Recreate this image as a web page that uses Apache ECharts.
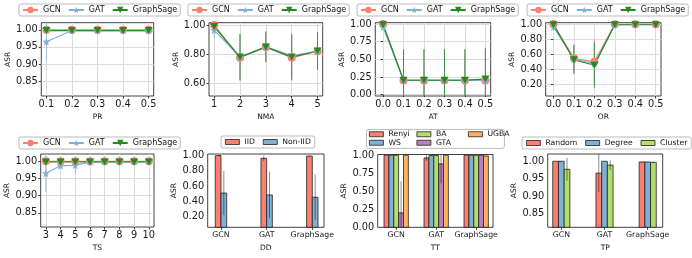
<!DOCTYPE html>
<html><head><meta charset="utf-8">
<script src="https://cdn.jsdelivr.net/npm/echarts@6/dist/echarts.min.js"></script>
<style>html,body{margin:0;padding:0;background:#fff}#c{width:692px;height:258px}</style>
</head><body><div id="c"></div>
<script>
// ---------------- DATA ----------------
const models = ['GCN', 'GAT', 'GraphSage'];

// PR
const prX = [0.1, 0.2, 0.3, 0.4, 0.5];
const prGCN = [1.0, 1.0, 1.0, 1.0, 1.0];
const prGAT = [0.965, 0.998, 0.998, 0.998, 0.998];
const prSage = [0.998, 0.998, 0.998, 0.998, 0.998];
const prGCNErr = [0, 0, 0, 0, 0];
const prGATErr = [0.055, 0.002, 0.002, 0.002, 0.002];
const prSageErr = [0.002, 0.002, 0.002, 0.002, 0.002];
const prYTicks = [0.85, 0.90, 0.95, 1.00];

// NMA
const nmaX = [1, 2, 3, 4, 5];
const nmaGCN = [1.0, 0.775, 0.85, 0.775, 0.82];
const nmaGAT = [0.965, 0.78, 0.85, 0.79, 0.82];
const nmaSage = [0.99, 0.78, 0.85, 0.78, 0.822];
const nmaGCNErr = [0.002, 0.16, 0.105, 0.16, 0.13];
const nmaGATErr = [0.055, 0.16, 0.105, 0.15, 0.13];
const nmaSageErr = [0.01, 0.158, 0.105, 0.157, 0.128];
const nmaYTicks = [0.60, 0.80, 1.00];

// AT
const atX = [0.0, 0.1, 0.2, 0.3, 0.4, 0.5];
const atGCN = [1.0, 0.2, 0.2, 0.2, 0.2, 0.2];
const atGAT = [0.96, 0.2, 0.2, 0.2, 0.2, 0.2];
const atSage = [0.99, 0.205, 0.205, 0.205, 0.205, 0.22];
const atGCNErr = [0, 0.44, 0.44, 0.44, 0.44, 0.44];
const atGATErr = [0.05, 0.44, 0.44, 0.44, 0.44, 0.44];
const atSageErr = [0.01, 0.44, 0.44, 0.44, 0.44, 0.445];
const atYTicks = [0.00, 0.25, 0.50, 0.75, 1.00];

// OR
const orX = [0.0, 0.1, 0.2, 0.3, 0.4, 0.5];
const orGCN = [1.0, 0.547, 0.50, 0.995, 0.995, 0.995];
const orGAT = [0.96, 0.535, 0.475, 0.99, 0.995, 0.995];
const orSage = [0.99, 0.528, 0.455, 0.99, 0.99, 0.99];
const orGCNErr = [0, 0.19, 0.3, 0.005, 0.003, 0.003];
const orGATErr = [0.05, 0.19, 0.3, 0.01, 0.005, 0.005];
const orSageErr = [0.01, 0.19, 0.3, 0.01, 0.005, 0.005];
const orYTicks = [0.20, 0.40, 0.60, 0.80, 1.00];

// TS
const tsX = [3, 4, 5, 6, 7, 8, 9, 10];
const tsGCN = [1.0, 1.0, 1.0, 1.0, 1.0, 1.0, 1.0, 1.0];
const tsGAT = [0.965, 0.987, 0.988, 0.998, 0.999, 0.999, 0.999, 0.999];
const tsSage = [0.998, 0.998, 0.998, 0.998, 0.998, 0.998, 0.998, 0.998];
const tsGCNErr = [0, 0, 0, 0, 0, 0, 0, 0];
const tsGATErr = [0.055, 0.01, 0.024, 0.003, 0.002, 0.002, 0.002, 0.002];
const tsSageErr = [0.002, 0.002, 0.002, 0.002, 0.002, 0.002, 0.002, 0.002];
const tsYTicks = [0.85, 0.90, 0.95, 1.00];

// DD
const ddIID = [1.0, 0.965, 0.995];
const ddIIDErr = [0.002, 0.035, 0.005];
const ddNonIID = [0.51, 0.485, 0.455];
const ddNonIIDErr = [0.29, 0.305, 0.30];
const ddYTicks = [0.20, 0.40, 0.60, 0.80, 1.00];

// TT
const ttRenyi = [1.0, 0.962, 1.0];
const ttRenyiErr = [0, 0.04, 0];
const ttWS = [1.0, 0.995, 1.0];
const ttWSErr = [0, 0.005, 0];
const ttBA = [1.0, 0.995, 1.0];
const ttBAErr = [0, 0.005, 0];
const ttGTA = [0.2, 0.88, 1.0];
const ttGTAErr = [0.44, 0.27, 0];
const ttUGBA = [1.0, 1.0, 0.99];
const ttUGBAErr = [0, 0, 0.005];
const ttYTicks = [0.00, 0.25, 0.50, 0.75, 1.00];

// TP
const tpRandom = [1.0, 0.966, 0.998];
const tpRandomErr = [0, 0.055, 0.002];
const tpDegree = [1.0, 1.0, 0.998];
const tpDegreeErr = [0, 0, 0.001];
const tpCluster = [0.977, 0.989, 0.997];
const tpClusterErr = [0.033, 0.014, 0.002];
const tpYTicks = [0.85, 0.90, 0.95, 1.00];

const groupTicks = [0, 1, 2];

// ---------------- STYLE ----------------
const F = 'DejaVu Sans';
const C_GCN = '#FB8072', C_GAT = '#80B1D3', C_SAGE = '#228B22';
const C_BA = '#B3DE69', C_GTA = '#BC80BD', C_UGBA = '#FDB462';
const STAR = 'path://M0,-10L2.35,-3.24L9.51,-3.09L3.8,1.24L5.88,8.09L0,4L-5.88,8.09L-3.8,1.24L-9.51,-3.09L-2.35,-3.24Z';
const TRI_DOWN = 'path://M0,0L10,0L5,8.66Z';
const modelStyle = {
  GCN: {color: C_GCN, symbol: 'circle', size: 8},
  GAT: {color: C_GAT, symbol: STAR, size: 8},
  GraphSage: {color: C_SAGE, symbol: TRI_DOWN, size: [8, 7]}
};
const LEG_FONT = 8;
const BAR_LEG_FONT = 7.7;

const grids = [], xAxes = [], yAxes = [], series = [], legends = [], graphics = [];

function addGrid(left, top, width, height) {
  grids.push({left, top, width, height, show: true, borderColor: '#111', borderWidth: 0.8, backgroundColor: 'transparent', containLabel: false});
  return grids.length - 1;
}
function axisCommon(ticks, fmt, min, max, name, isY, gridLines, nameGap, labelSize) {
  return {
    type: 'value', gridIndex: grids.length - 1, min, max,
    name, nameLocation: 'middle', nameGap, nameRotate: isY ? 90 : 0,
    nameTextStyle: {fontFamily: F, fontSize: 7.5, color: '#111'},
    axisLine: {show: false},
    axisTick: {show: true, length: 2.5, customValues: ticks, lineStyle: {color: '#111', width: 0.8}},
    axisLabel: {show: true, customValues: ticks, formatter: fmt, margin: 3.5, fontFamily: F, fontSize: labelSize || 9.8, color: '#1a1a1a'},
    splitLine: {show: gridLines, lineStyle: {color: '#dcdcdc', width: 1}}
  };
}
function errSeries(gi, name, xs, ys, es, color) {
  return {
    type: 'custom', name, xAxisIndex: gi, yAxisIndex: gi, silent: true,
    data: xs.map((x, k) => [x, ys[k], es[k]]),
    renderItem(params, api) {
      const x = api.value(0), y = api.value(1), e = api.value(2);
      if (!e) return null;
      const cs = params.coordSys;
      const a = api.coord([x, y + e]), b = api.coord([x, y - e]);
      return {type: 'line', shape: {x1: a[0], y1: Math.max(a[1], cs.y), x2: a[0], y2: Math.min(b[1], cs.y + cs.height)},
        style: {stroke: color, lineWidth: 1, opacity: 0.75}};
    }
  };
}
function linePanel(box, xs, ys, es, xmin, xmax, xfmt, ymin, ymax, yticks, xname, yGap, legendPos) {
  const gi = addGrid(...box);
  xAxes.push(axisCommon(xs, xfmt, xmin, xmax, xname, false, true, 17));
  yAxes.push(axisCommon(yticks, v => v.toFixed(2), ymin, ymax, 'ASR', true, true, yGap));
  models.forEach((m, i) => {
    const st = modelStyle[m];
    series.push(errSeries(gi, m + '_err', xs, ys[i], es[i], st.color));
    series.push({
      type: 'line', name: m, xAxisIndex: gi, yAxisIndex: gi,
      data: xs.map((x, k) => [x, ys[i][k]]),
      symbol: st.symbol, symbolSize: st.size, showSymbol: true,
      lineStyle: {color: st.color, width: 1.2}, itemStyle: {color: st.color},
      clip: false
    });
  });
  legends.push({
    left: legendPos[0], top: legendPos[1], width: 400, data: models, orient: 'horizontal',
    itemWidth: 15, itemHeight: 8, itemGap: 7, padding: [2, 3, 2, 3],
    borderColor: '#aaa', borderWidth: 0.8, borderRadius: 2,
    textStyle: {fontFamily: F, fontSize: LEG_FONT, color: '#111'}, selectedMode: false
  });
}
function barSeries(gi, name, vals, errs, color, offset, width) {
  return {
    type: 'custom', name, xAxisIndex: gi, yAxisIndex: gi, itemStyle: {color},
    data: vals.map((v, k) => [groupTicks[k], v, errs[k]]),
    renderItem(params, api) {
      const cs = params.coordSys;
      const cx = api.value(0) + offset, v = api.value(1), e = api.value(2);
      const p0 = api.coord([cx - width / 2, v]), p1 = api.coord([cx + width / 2, 0]);
      const yt = Math.max(p0[1], cs.y), yb = Math.min(p1[1], cs.y + cs.height);
      const ch = [{type: 'rect', shape: {x: p0[0], y: yt, width: p1[0] - p0[0], height: yb - yt},
        style: {fill: color, stroke: '#222', lineWidth: 0.8}}];
      if (e > 0) {
        const a = api.coord([cx, v + e]), b = api.coord([cx, v - e]);
        ch.push({type: 'line', shape: {x1: a[0], y1: Math.max(a[1], cs.y), x2: a[0], y2: Math.min(b[1], cs.y + cs.height)},
          style: {stroke: 'rgba(0,0,0,0.45)', lineWidth: 1}});
      }
      return {type: 'group', children: ch};
    }
  };
}
function barPanel(box, sets, width, xmin, xmax, ymin, ymax, yticks, xname, yGap) {
  const gi = addGrid(...box);
  xAxes.push(axisCommon(groupTicks, v => models[Math.round(v)], xmin, xmax, xname, false, false, 17, 7.8));
  yAxes.push(axisCommon(yticks, v => v.toFixed(2), ymin, ymax, 'ASR', true, false, yGap));
  const n = sets.length;
  sets.forEach((s, i) => {
    series.push(barSeries(gi, s.name, s.vals, s.errs, s.color, (i - (n - 1) / 2) * width, width));
  });
  return gi;
}
function barLegendItem(name) {
  return {name, icon: 'rect', itemStyle: {borderColor: '#222', borderWidth: 0.8}};
}
function barLegend(names, left, top, orient, extra) {
  return Object.assign({
    left, top, orient, width: 400, data: names.map(barLegendItem),
    itemWidth: 14, itemHeight: 5, itemGap: 8, padding: [2, 4, 2, 4],
    borderColor: '#aaa', borderWidth: 0.8, borderRadius: 2,
    textStyle: {fontFamily: F, fontSize: BAR_LEG_FONT, color: '#111'}, selectedMode: false
  }, extra || {});
}

// ---------------- PANELS ----------------
linePanel([41.3, 22.7, 112.4, 73.3], prX, [prGCN, prGAT, prSage], [prGCNErr, prGATErr, prSageErr],
  0.08, 0.52, v => v.toFixed(1), 0.806, 1.021, prYTicks, 'PR', 27, [19, 4]);
linePanel([209, 22.7, 113.7, 73.3], nmaX, [nmaGCN, nmaGAT, nmaSage], [nmaGCNErr, nmaGATErr, nmaSageErr],
  0.8, 5.2, v => String(v), 0.513, 1.016, nmaYTicks, 'NMA', 27, [188, 4]);
linePanel([375.3, 22.7, 115.4, 73.3], atX, [atGCN, atGAT, atSage], [atGCNErr, atGATErr, atSageErr],
  -0.038, 0.526, v => v.toFixed(1), -0.02, 1.02, atYTicks, 'AT', 25, [357, 4]);
linePanel([545.7, 22.7, 115.3, 73.3], orX, [orGCN, orGAT, orSage], [orGCNErr, orGATErr, orSageErr],
  -0.038, 0.526, v => v.toFixed(1), 0.049, 1.017, orYTicks, 'OR', 25, [527, 4]);
linePanel([40.7, 154, 113.3, 73], tsX, [tsGCN, tsGAT, tsSage], [tsGCNErr, tsGATErr, tsSageErr],
  2.65, 10.35, v => String(v), 0.809, 1.021, tsYTicks, 'TS', 27, [19, 137]);

barPanel([207.7, 154, 116.3, 73.3], [
  {name: 'IID', vals: ddIID, errs: ddIIDErr, color: C_GCN},
  {name: 'Non-IID', vals: ddNonIID, errs: ddNonIIDErr, color: C_GAT}
], 0.125, -0.291, 2.256, 0.061, 1.022, ddYTicks, 'DD', 27);
legends.push(barLegend(['IID', 'Non-IID'], 221, 136, 'horizontal'));

barPanel([377.7, 154.5, 115.3, 72.8], [
  {name: 'Renyi', vals: ttRenyi, errs: ttRenyiErr, color: C_GCN},
  {name: 'WS', vals: ttWS, errs: ttWSErr, color: C_GAT},
  {name: 'BA', vals: ttBA, errs: ttBAErr, color: C_BA},
  {name: 'GTA', vals: ttGTA, errs: ttGTAErr, color: C_GTA},
  {name: 'UGBA', vals: ttUGBA, errs: ttUGBAErr, color: C_UGBA}
], 0.1217, -0.4625, 2.42, 0, 1.01, ttYTicks, 'TT', 27);
const ttText = {fontFamily: F, fontSize: BAR_LEG_FONT, color: '#111', lineHeight: 8.5};
const ttLegExtra = {borderWidth: 0, itemGap: 0, padding: 0, backgroundColor: 'transparent', textStyle: ttText};
legends.push(barLegend(['Renyi', 'WS'], 369, 130, 'vertical', ttLegExtra));
legends.push(barLegend(['BA', 'GTA'], 416.5, 130, 'vertical', ttLegExtra));
legends.push(barLegend(['UGBA'], 468, 130, 'vertical', ttLegExtra));
graphics.push({type: 'rect', left: 366, top: 129, shape: {width: 138, height: 19, r: 2}, style: {fill: 'transparent', stroke: '#aaa', lineWidth: 0.8}, silent: true});

barPanel([547.7, 154, 115, 73.3], [
  {name: 'Random', vals: tpRandom, errs: tpRandomErr, color: C_GCN},
  {name: 'Degree', vals: tpDegree, errs: tpDegreeErr, color: C_GAT},
  {name: 'Cluster', vals: tpCluster, errs: tpClusterErr, color: C_BA}
], 0.132, -0.315, 2.347, 0.81, 1.021, tpYTicks, 'TP', 27);
legends.push(barLegend(['Random', 'Degree', 'Cluster'], 522, 137, 'horizontal'));

const chart = echarts.init(document.getElementById('c'), null, {renderer: 'canvas'});
chart.setOption({
  animation: false,
  backgroundColor: '#fff',
  textStyle: {fontFamily: F},
  grid: grids, xAxis: xAxes, yAxis: yAxes, series, legend: legends, graphic: graphics
});
</script></body></html>
